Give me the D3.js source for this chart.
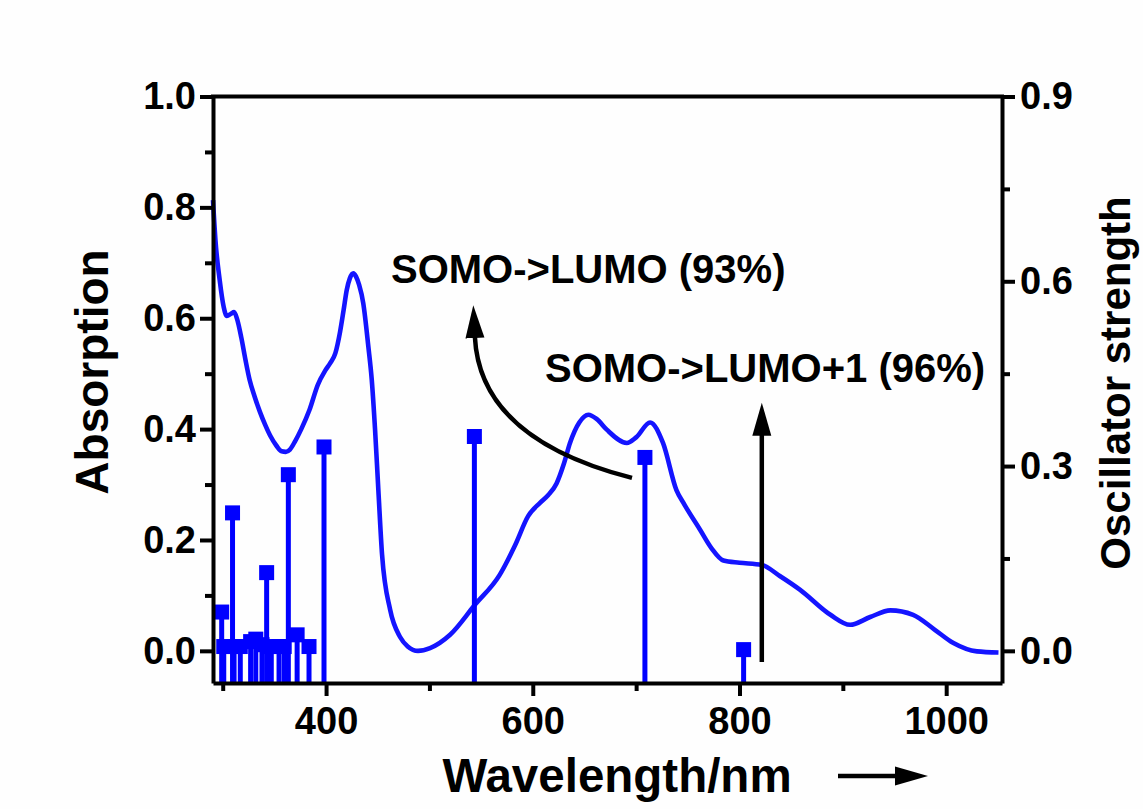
<!DOCTYPE html>
<html>
<head>
<meta charset="utf-8">
<script src="https://cdn.jsdelivr.net/npm/d3@7"></script>
<style>
  html, body { margin: 0; padding: 0; background: #fff; }
  svg { display: block; }
  text { font-family: "Liberation Sans", Arial, sans-serif; font-weight: bold; fill: #000; }
</style>
</head>
<body>
<svg id="chart" width="1143" height="809"></svg>
<script>
// Simulated absorption spectrum (left axis)
const wavelength = [290.6, 293, 297, 301, 304, 308, 311, 314, 318, 322, 326, 331, 336, 341, 346, 352, 357, 361,
  365, 370, 376, 384, 392, 399, 404, 409, 413.5, 417, 420, 423, 426.4, 429, 432, 436, 440.9, 444.2, 447.4,
  450.6, 454.2, 462, 471.6, 479, 489, 500.6, 520, 544, 568, 583, 595.5, 607, 615, 623, 630, 636, 645, 653.8, 662,
  671.6, 691, 700, 713.5, 726, 739, 747, 762, 773, 784.5, 800, 821.6, 839, 858.7, 888, 907, 926.5, 946,
  968, 989, 1007, 1029.7, 1050.6];
const absorption = [0.813, 0.74, 0.67, 0.62, 0.604, 0.608, 0.611, 0.598, 0.565, 0.525, 0.489, 0.458, 0.431,
  0.408, 0.388, 0.370, 0.360, 0.359, 0.363, 0.378, 0.400, 0.435, 0.48, 0.505, 0.519, 0.537, 0.575, 0.615,
  0.651, 0.672, 0.681, 0.675, 0.660, 0.627, 0.549, 0.489, 0.399, 0.29, 0.173, 0.074, 0.025, 0.008, 0.0,
  0.005, 0.029, 0.083, 0.137, 0.191, 0.243, 0.267, 0.281, 0.302, 0.337, 0.375, 0.412, 0.426, 0.418, 0.399,
  0.375, 0.385, 0.412, 0.375, 0.29, 0.263, 0.218, 0.185, 0.163, 0.159, 0.155, 0.135, 0.11, 0.065, 0.047,
  0.061, 0.073, 0.065, 0.038, 0.014, -0.001, -0.003];

// Calculated transitions (right axis)
const stickWavelength = [299, 301, 309.5, 311, 317, 327, 332, 338, 342.5, 347, 354.5, 359.5, 363.5, 372, 383.5,
  398, 543.5, 708.5, 804];
const oscStrength = [0.063, 0.007, 0.224, 0.007, 0.007, 0.015, 0.019, 0.010, 0.127, 0.007, 0.007, 0.007, 0.286,
  0.026, 0.007, 0.331, 0.348, 0.314, 0.002];

// Axis ticks
const wlMajor = [400, 600, 800, 1000];
const wlMinor = [300, 500, 700, 900];
const absMajor = [0, 0.2, 0.4, 0.6, 0.8, 1.0];
const absMinor = [0.1, 0.3, 0.5, 0.7, 0.9];
const oscMajor = [0, 0.3, 0.6, 0.9];
const oscMinor = [0.15, 0.45, 0.75];

const BLUE = "#0000ff";
const LINE_BLUE = "#1414ff";

const svg = d3.select("#chart");
const plotLeft = 213, plotRight = 1002, plotTop = 96.5, plotBottom = 683;

const x = d3.scaleLinear().domain([290.6, 1054]).range([plotLeft, plotRight]);
const yAbs = d3.scaleLinear().domain([-0.058, 1.0]).range([plotBottom, plotTop]);
const yOsc = d3.scaleLinear().domain([-0.0522, 0.9]).range([plotBottom, plotTop]);

svg.append("rect").attr("width", 1143).attr("height", 809).attr("fill", "#fefefe");

// Spectrum
const spectrum = wavelength.map((w, i) => [w, absorption[i]]);
svg.append("path")
  .datum(spectrum)
  .attr("fill", "none")
  .attr("stroke", LINE_BLUE)
  .attr("stroke-width", 4.6)
  .attr("stroke-linejoin", "round")
  .attr("d", d3.line().x(d => x(d[0])).y(d => yAbs(d[1])).curve(d3.curveMonotoneX));

// Stick spectrum: drop lines to the frame bottom with square caps
const sticks = stickWavelength.map((w, i) => ({ w, f: oscStrength[i] }));
const sg = svg.append("g");
sg.selectAll("line").data(sticks).join("line")
  .attr("x1", d => x(d.w)).attr("x2", d => x(d.w))
  .attr("y1", plotBottom).attr("y2", d => yOsc(d.f))
  .attr("stroke", BLUE).attr("stroke-width", 5);
const sq = 15;
sg.selectAll("rect").data(sticks).join("rect")
  .attr("x", d => x(d.w) - sq / 2).attr("y", d => yOsc(d.f) - sq / 2)
  .attr("width", sq).attr("height", sq)
  .attr("fill", BLUE);

// Arrowhead
const defs = svg.append("defs");
defs.append("marker")
  .attr("id", "head")
  .attr("markerUnits", "userSpaceOnUse")
  .attr("viewBox", "0 -10 34 20")
  .attr("refX", 1).attr("refY", 0)
  .attr("markerWidth", 34).attr("markerHeight", 20)
  .attr("orient", "auto")
  .append("path").attr("d", "M0,-9.5L33,0L0,9.5Z").attr("fill", "#000");

// Curved arrow for SOMO->LUMO
const p0 = [x(696), yAbs(0.312)], c = [x(549), yAbs(0.382)], p2 = [x(544), yAbs(0.566)];
svg.append("path")
  .attr("d", `M${p0[0]},${p0[1]} Q${c[0]},${c[1]} ${p2[0]},${p2[1]}`)
  .attr("fill", "none").attr("stroke", "#000").attr("stroke-width", 4.5)
  .attr("marker-end", "url(#head)");

// Straight arrow for SOMO->LUMO+1
svg.append("line")
  .attr("x1", x(821.6)).attr("x2", x(821.6))
  .attr("y1", yAbs(-0.02)).attr("y2", yAbs(0.39))
  .attr("stroke", "#000").attr("stroke-width", 4.5)
  .attr("marker-end", "url(#head)");

// Annotations
svg.append("text").attr("x", 391).attr("y", 283).attr("font-size", 40).text("SOMO->LUMO (93%)");
svg.append("text").attr("x", 545).attr("y", 382).attr("font-size", 40).text("SOMO->LUMO+1 (96%)");

// Axes
function styleAxis(g) {
  g.selectAll("path.domain").attr("stroke", "#000").attr("stroke-width", 4);
  g.selectAll(".tick line").attr("stroke", "#000").attr("stroke-width", 4);
  g.selectAll(".tick text").attr("font-size", 38).attr("fill", "#000")
    .attr("font-family", '"Liberation Sans", Arial, sans-serif').attr("font-weight", "bold");
}

const fmt1 = d3.format(".1f");
svg.append("g").attr("transform", `translate(0,${plotBottom})`)
  .call(d3.axisBottom(x).tickValues(wlMinor).tickSize(8).tickFormat(""))
  .call(g => g.select(".domain").remove())
  .call(styleAxis);
svg.append("g").attr("transform", `translate(0,${plotBottom})`)
  .call(d3.axisBottom(x).tickValues(wlMajor).tickSizeInner(13).tickSizeOuter(0).tickPadding(11).tickFormat(d3.format("d")))
  .call(styleAxis);

svg.append("g").attr("transform", `translate(${plotLeft},0)`)
  .call(d3.axisLeft(yAbs).tickValues(absMinor).tickSize(8).tickFormat(""))
  .call(g => g.select(".domain").remove())
  .call(styleAxis);
svg.append("g").attr("transform", `translate(${plotLeft},0)`)
  .call(d3.axisLeft(yAbs).tickValues(absMajor).tickSizeInner(13).tickSizeOuter(0).tickPadding(4).tickFormat(fmt1))
  .call(styleAxis);

svg.append("g").attr("transform", `translate(${plotRight},0)`)
  .call(d3.axisRight(yOsc).tickValues(oscMinor).tickSize(8).tickFormat(""))
  .call(g => g.select(".domain").remove())
  .call(styleAxis);
svg.append("g").attr("transform", `translate(${plotRight},0)`)
  .call(d3.axisRight(yOsc).tickValues(oscMajor).tickSizeInner(13).tickSizeOuter(0).tickPadding(5).tickFormat(fmt1))
  .call(styleAxis);

svg.append("line").attr("x1", plotLeft - 2).attr("x2", plotRight + 2).attr("y1", plotTop).attr("y2", plotTop)
  .attr("stroke", "#000").attr("stroke-width", 4);

// Axis titles
svg.append("text").attr("x", 617).attr("y", 792).attr("text-anchor", "middle").attr("font-size", 47.5)
  .text("Wavelength/nm");
svg.append("line").attr("x1", 838).attr("x2", 896).attr("y1", 776).attr("y2", 776)
  .attr("stroke", "#000").attr("stroke-width", 4.5).attr("marker-end", "url(#head)");
svg.append("text").attr("transform", "translate(108,372) rotate(-90)").attr("text-anchor", "middle")
  .attr("font-size", 46).text("Absorption");
svg.append("text").attr("transform", "translate(1130,383) rotate(-90)").attr("text-anchor", "middle")
  .attr("font-size", 42).text("Oscillator strength");
</script>
</body>
</html>
